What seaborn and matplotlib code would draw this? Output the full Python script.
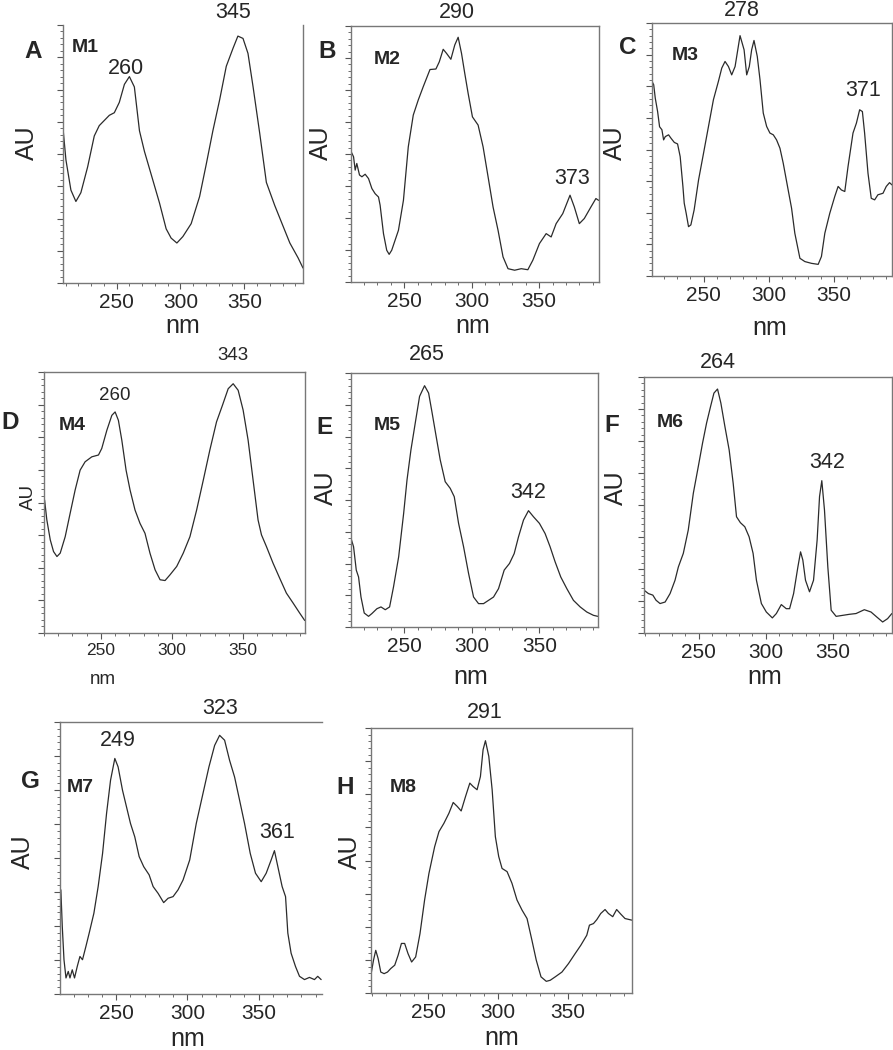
import numpy as np
import pandas as pd
import seaborn as sns
import matplotlib
matplotlib.use("Agg")
import matplotlib.pyplot as plt
from matplotlib.ticker import MultipleLocator, NullFormatter

sns.set_style("ticks")
plt.rcParams["font.family"] = ["Liberation Sans", "DejaVu Sans"]

# spectra (wavelength nm, relative absorbance 0..1)
wl_m1 = [208, 210.3, 214.2, 218.1, 222, 227.3, 232.5, 236.4, 244.3, 248.2, 252.1, 256.1, 260,
         263.9, 267.9, 271.8, 278.3, 283.6, 288.8, 292.7, 297.2, 301.9, 308.4, 315, 320.2,
         325.4, 330.7, 335.9, 341.2, 345, 349, 352.9, 356.9, 362.1, 367.3, 373.9, 380.4,
         385.7, 392.2, 396]
au_m1 = [0.60, 0.477, 0.36, 0.316, 0.35, 0.45, 0.57, 0.61, 0.65, 0.66, 0.70, 0.77, 0.80,
         0.76, 0.59, 0.51, 0.40, 0.31, 0.21, 0.174, 0.155, 0.18, 0.23, 0.335, 0.46,
         0.59, 0.71, 0.84, 0.91, 0.957, 0.948, 0.89, 0.76, 0.58, 0.39, 0.30, 0.22,
         0.155, 0.097, 0.058]

wl_m2 = [210.7, 212.4, 213.6, 214.8, 216.8, 218.6, 221, 223.5, 226, 228.4, 230.9, 232.1, 234.6,
         237, 238.8, 240.7, 245.7, 249.4, 253, 256.7, 260.4, 264.1, 269.1, 273.5, 276,
         278.9, 281.4, 284.6, 287.5, 290, 292.5, 294.9, 297.4, 300.6, 304.8, 308.5, 312.2,
         315.9, 319.6, 323.3, 327, 331.9, 336.8, 341.7, 345.4, 350.3, 355.3, 359, 362.7,
         367.6, 373, 376.2, 379.9, 383.6, 388.5, 392.2, 394.2]
au_m2 = [0.508, 0.489, 0.437, 0.463, 0.418, 0.411, 0.421, 0.404, 0.365, 0.345, 0.332, 0.30, 0.189,
         0.124, 0.108, 0.124, 0.202, 0.319, 0.528, 0.652, 0.711, 0.763, 0.83, 0.832, 0.86,
         0.909, 0.893, 0.87, 0.926, 0.956, 0.893, 0.815, 0.737, 0.645, 0.613, 0.528, 0.411,
         0.293, 0.202, 0.098, 0.052, 0.046, 0.052, 0.048, 0.085, 0.15, 0.189, 0.176, 0.228,
         0.267, 0.339, 0.293, 0.228, 0.248, 0.293, 0.326, 0.319]

wl_m3 = [210.5, 211.8, 213, 214.8, 216.3, 218.1, 219.4, 220.7, 223.2, 225, 227.6, 230.1, 232.1,
         234.2, 235.2, 236.7, 238.5, 240.3, 242.8, 246.2, 250, 253.8, 257.6, 261.4, 264,
         266.5, 269.1, 271.6, 274.2, 278, 281.1, 283.1, 285.1, 286.9, 288.7, 291.2, 293.3,
         295.8, 298.4, 300.9, 303.5, 306, 308.6, 311.1, 314.9, 317.5, 320, 323.9, 327.7,
         332.8, 337.9, 340.4, 343, 346.8, 350.6, 353.2, 355.7, 358.3, 360.8, 364.6, 367.2,
         369.7, 371.8, 373.5, 376.1, 378.6, 381.2, 383.7, 387.6, 390.1, 392.6, 394.5]
au_m3 = [0.769, 0.756, 0.703, 0.65, 0.59, 0.578, 0.538, 0.551, 0.558, 0.545, 0.528, 0.522, 0.472,
         0.354, 0.288, 0.248, 0.195, 0.202, 0.261, 0.38, 0.485, 0.591, 0.697, 0.769, 0.822,
         0.848, 0.828, 0.795, 0.828, 0.95, 0.894, 0.795, 0.828, 0.894, 0.931, 0.868, 0.776,
         0.644, 0.591, 0.565, 0.558, 0.538, 0.505, 0.446, 0.34, 0.268, 0.169, 0.07, 0.057,
         0.05, 0.046, 0.077, 0.169, 0.248, 0.314, 0.354, 0.34, 0.334, 0.433, 0.565, 0.604,
         0.657, 0.65, 0.565, 0.406, 0.307, 0.301, 0.321, 0.327, 0.354, 0.369, 0.36]

wl_m4 = [210.4, 212, 214.4, 216.7, 219.1, 221.4, 224.9, 228.4, 231.9, 235.4, 238.9, 243.6, 248.3,
         250.6, 254.2, 257.7, 260, 262.3, 264.7, 267.7, 270.5, 274, 277.5, 281, 284.5,
         288.1, 291.6, 295.1, 298.6, 303.3, 307.9, 312.6, 317.3, 322, 326.6, 331.3, 335.5,
         339.5, 343, 346.5, 350, 353.5, 357, 360.5, 362.9, 366.4, 371, 375.7, 380.4, 385.1,
         389.8, 393.3]
au_m4 = [0.51, 0.433, 0.357, 0.312, 0.293, 0.306, 0.369, 0.459, 0.548, 0.624, 0.656, 0.675, 0.682,
         0.707, 0.777, 0.834, 0.847, 0.815, 0.739, 0.624, 0.548, 0.471, 0.42, 0.382, 0.306,
         0.242, 0.204, 0.201, 0.223, 0.255, 0.306, 0.369, 0.471, 0.586, 0.701, 0.809, 0.873,
         0.936, 0.955, 0.93, 0.854, 0.739, 0.586, 0.433, 0.376, 0.331, 0.268, 0.21, 0.153, 0.115,
         0.076, 0.048]

wl_m5 = [210.5, 212.4, 214.4, 216.1, 217.9, 220.3, 223.5, 226, 229.7, 232.7, 235.9, 239.1, 242,
         245.8, 249.5, 252, 254.9, 258.1, 261.3, 265, 268, 270.4, 273.6, 276.6, 280.3,
         284, 287, 290.2, 293.9, 297.6, 301.3, 305, 308.7, 312.4, 316.1, 319.8, 324, 327.9,
         331.4, 334.6, 338.3, 342, 345.7, 350.1, 354.3, 358, 361.7, 365.9, 370.4, 375.3,
         380.3, 385.2, 390.1, 393.3]
au_m5 = [0.349, 0.316, 0.224, 0.197, 0.118, 0.055, 0.042, 0.053, 0.072, 0.079, 0.068, 0.079, 0.158,
         0.276, 0.447, 0.579, 0.697, 0.803, 0.908, 0.95, 0.921, 0.849, 0.75, 0.658, 0.572,
         0.546, 0.513, 0.408, 0.316, 0.211, 0.118, 0.092, 0.092, 0.105, 0.118, 0.151, 0.224, 0.25,
         0.289, 0.355, 0.421, 0.458, 0.434, 0.408, 0.368, 0.316, 0.257, 0.197, 0.151, 0.105,
         0.079, 0.059, 0.046, 0.042]

wl_m6 = [209.1, 212.3, 215.6, 218, 221, 224.8, 228.5, 232.2, 234.7, 238.4, 242.1, 245.9, 249.6,
         252.8, 255.8, 258.8, 261.3, 264, 266.5, 269.5, 272.7, 275.7, 278.2, 281.1, 284.4,
         287.6, 290.6, 293.1, 296.8, 300.5, 305, 308, 311.7, 315.4, 317.9, 320.9, 324.1,
         326.1, 327.8, 329.8, 332.8, 335.8, 338.5, 340.3, 342, 344, 346.5, 349, 352.7, 357.7,
         362.6, 367.6, 373.8, 378.8, 383, 387.5, 391.2, 394.4]
au_m6 = [0.167, 0.154, 0.148, 0.128, 0.115, 0.121, 0.154, 0.206, 0.258, 0.311, 0.402, 0.546, 0.65,
         0.742, 0.82, 0.885, 0.937, 0.953, 0.898, 0.807, 0.715, 0.585, 0.454, 0.431, 0.415,
         0.376, 0.311, 0.206, 0.115, 0.082, 0.059, 0.076, 0.111, 0.095, 0.095, 0.154, 0.258,
         0.317, 0.285, 0.206, 0.161, 0.206, 0.363, 0.533, 0.595, 0.48, 0.258, 0.089, 0.065, 0.069,
         0.073, 0.076, 0.091, 0.082, 0.063, 0.043, 0.056, 0.076]

wl_m7 = [211.1, 212.1, 213.3, 214.7, 216.3, 217.5, 219.1, 220.7, 222.6, 224.5, 226.3, 228.7, 231,
         234.3, 237.3, 240.4, 243.2, 246, 249, 251.3, 254.4, 257.2, 260, 263, 266.1, 269.3,
         273.1, 275.9, 279.4, 283.3, 286.4, 289.9, 293.4, 296.9, 301.6, 306.2, 310.9, 315.1,
         319.1, 322.6, 326.1, 329.6, 333.1, 336.6, 340.1, 344.1, 347.8, 351.8, 355.3, 358.8,
         361.1, 363.5, 366.5, 368.9, 370.5, 372.8, 375.9, 378.7, 382.2, 385.7, 389.2, 391.5,
         393.9]
au_m7 = [0.383, 0.248, 0.126, 0.059, 0.083, 0.059, 0.089, 0.059, 0.101, 0.138, 0.126, 0.175, 0.224,
         0.297, 0.395, 0.517, 0.664, 0.786, 0.866, 0.835, 0.749, 0.688, 0.627, 0.578, 0.505, 0.468,
         0.438, 0.395, 0.37, 0.336, 0.352, 0.358, 0.383, 0.419, 0.493, 0.627, 0.737, 0.835,
         0.914, 0.951, 0.933, 0.859, 0.798, 0.713, 0.627, 0.517, 0.444, 0.413, 0.444, 0.493,
         0.527, 0.468, 0.395, 0.358, 0.224, 0.15, 0.101, 0.065, 0.053, 0.061, 0.053, 0.065,
         0.053]

wl_m8 = [209.3, 210.8, 212.4, 214.1, 216, 218.4, 220.8, 223.1, 226, 228.4, 230.8, 233.1, 235.5,
         238.1, 241, 244.1, 247.4, 250.5, 254.6, 257.7, 261.2, 264.8, 267.9, 270.8, 273.6,
         276.7, 279.8, 282.2, 285, 287.4, 289.3, 291, 293.4, 295.8, 298.1, 300.5, 302.9, 306.5,
         310, 313.6, 317.2, 320.8, 324.3, 327.4, 330.8, 334.6, 337.4, 341, 345.8, 350.5, 355.3,
         359.3, 363.6, 365.5, 368.4, 370.8, 373.6, 376.7, 379.1, 382.2, 385, 387.9, 391, 395.8]
au_m8 = [0.079, 0.124, 0.161, 0.13, 0.079, 0.073, 0.079, 0.092, 0.105, 0.142, 0.187, 0.187, 0.149,
         0.117, 0.136, 0.224, 0.351, 0.451, 0.552, 0.609, 0.64, 0.678, 0.719, 0.704, 0.687,
         0.741, 0.792, 0.779, 0.767, 0.817, 0.918, 0.952, 0.893, 0.767, 0.59, 0.515, 0.47, 0.458,
         0.414, 0.351, 0.313, 0.281, 0.199, 0.124, 0.061, 0.044, 0.048, 0.061, 0.079, 0.111, 0.149,
         0.18, 0.218, 0.256, 0.262, 0.277, 0.3, 0.315, 0.3, 0.288, 0.315, 0.298, 0.281, 0.275]

letters = ["A", "B", "C", "D", "E", "F", "G", "H"]
names = ["M1", "M2", "M3", "M4", "M5", "M6", "M7", "M8"]
peak_labels = [["260", "345"], ["290", "373"], ["278", "371"], ["260", "343"],
               ["265", "342"], ["264", "342"], ["249", "323", "361"], ["291"]]
wavelengths = [wl_m1, wl_m2, wl_m3, wl_m4, wl_m5, wl_m6, wl_m7, wl_m8]
absorbance = [au_m1, au_m2, au_m3, au_m4, au_m5, au_m6, au_m7, au_m8]

# layout in pixels of the 893x1050 canvas
W, H = 893, 1050
layout = [
    dict(rect=(63, 25, 303, 283), xlim=(208, 396), letter=(33, 52), name=(85, 47),
         peaks=[(126, 68), (233, 12)], ylab=(34, 143), xlab=(183, 333), big=True, top=False, right=True),
    dict(rect=(351, 26, 599, 282), xlim=(210.5, 394.5), letter=(327, 52), name=(387, 60),
         peaks=[(457, 12), (572, 178)], ylab=(328, 143), xlab=(473, 333), big=True, top=True, right=True),
    dict(rect=(652, 23, 892, 276), xlim=(210.5, 394.5), letter=(628, 47), name=(685, 55),
         peaks=[(742, 10), (863, 90)], ylab=(622, 143), xlab=(770, 335), big=True, top=True, right=True),
    dict(rect=(44, 372, 305, 633), xlim=(210, 393.5), letter=(10, 423), name=(72, 425),
         peaks=[(115, 395), (233, 355)], ylab=(33, 497), xlab=(103, 684), big=False, top=True, right=True),
    dict(rect=(351, 373, 598, 627), xlim=(210.5, 393.5), letter=(325, 428), name=(387, 425),
         peaks=[(427, 355), (528, 492)], ylab=(333, 488), xlab=(471, 684), big=True, top=True, right=True),
    dict(rect=(644, 377, 892, 633), xlim=(209, 394.5), letter=(612, 425), name=(670, 423),
         peaks=[(718, 363), (827, 462)], ylab=(623, 488), xlab=(765, 684), big=True, top=True, right=True),
    dict(rect=(60, 722, 322, 994), xlim=(210.5, 394.5), letter=(30, 782), name=(80, 787),
         peaks=[(118, 740), (220, 708), (277, 832)], ylab=(30, 852), xlab=(188, 1046), big=True, top=True, right=False),
    dict(rect=(371, 728, 632, 993), xlim=(209, 396), letter=(345, 787), name=(403, 787),
         peaks=[(485, 712)], ylab=(357, 852), xlab=(502, 1045), big=True, top=True, right=True),
]

fig = plt.figure(figsize=(W / 100, H / 100), dpi=100)


def fx(x):
    return x / W


def fy(y):
    return 1 - y / H


for i in range(8):
    lay = layout[i]
    l, t, r, b = lay["rect"]
    ax = fig.add_axes([fx(l), fy(b), (r - l) / W, (b - t) / H])
    df = pd.DataFrame({"nm": wavelengths[i], "AU": absorbance[i]})
    sns.lineplot(data=df, x="nm", y="AU", ax=ax, color="#2b2b2b", linewidth=0.9,
                 sort=False, estimator=None)
    ax.set_xlim(*lay["xlim"])
    ax.set_ylim(0, 1)

    ax.xaxis.set_major_locator(MultipleLocator(50))
    ax.xaxis.set_minor_locator(MultipleLocator(10))
    ax.yaxis.set_major_locator(MultipleLocator(0.125))
    ax.yaxis.set_minor_locator(MultipleLocator(0.025))
    ax.yaxis.set_major_formatter(NullFormatter())
    ax.tick_params(axis="both", which="major", length=4, width=0.8, color="#555555")
    ax.tick_params(axis="both", which="minor", length=2, width=0.6, color="#555555")

    tick_fs = 15 if lay["big"] else 12.5
    label_fs = 18 if lay["big"] else 13.5
    peak_fs = 15.5 if lay["big"] else 13.5
    ax.tick_params(axis="x", labelsize=tick_fs, pad=3)

    for side in ["left", "bottom", "top", "right"]:
        ax.spines[side].set_color("#777777")
        ax.spines[side].set_linewidth(1.0)
    ax.spines["top"].set_visible(lay["top"])
    ax.spines["right"].set_visible(lay["right"])

    ax.set_xlabel("nm", fontsize=label_fs)
    ax.set_ylabel("AU", fontsize=label_fs)
    ax.xaxis.set_label_coords(fx(lay["xlab"][0]), fy(lay["xlab"][1]), transform=fig.transFigure)
    ax.xaxis.label.set_va("baseline")
    ax.yaxis.set_label_coords(fx(lay["ylab"][0]), fy(lay["ylab"][1]), transform=fig.transFigure)
    ax.yaxis.label.set_va("baseline")

    fig.text(fx(lay["letter"][0]), fy(lay["letter"][1]), letters[i], fontsize=17.5,
             fontweight="bold", ha="center", va="center")
    fig.text(fx(lay["name"][0]), fy(lay["name"][1]), names[i], fontsize=14,
             fontweight="bold", ha="center", va="center")
    for lbl, pos in zip(peak_labels[i], lay["peaks"]):
        fig.text(fx(pos[0]), fy(pos[1]), lbl, fontsize=peak_fs, ha="center", va="center")

fig.savefig("out.png", dpi=100, facecolor="white")
